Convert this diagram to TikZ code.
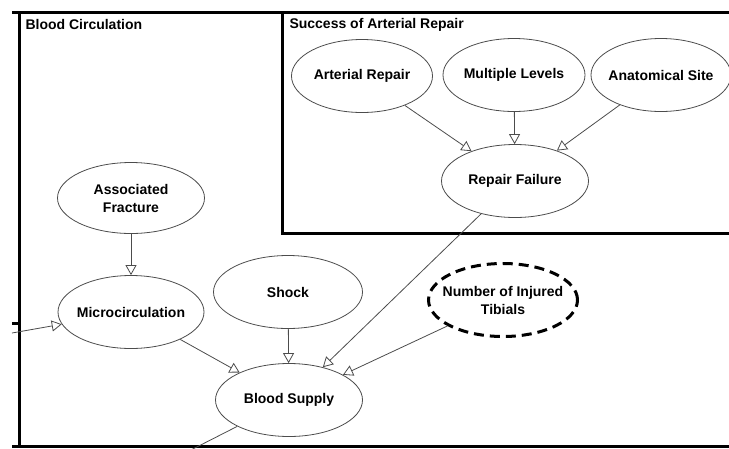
\documentclass[tikz,border=0pt]{standalone}
\usepackage{fontspec}
\setmainfont{Liberation Sans}
\usetikzlibrary{arrows.meta, shapes.geometric}

\begin{document}
\begin{tikzpicture}[x=1pt, y=-1pt,
    var/.style={ellipse, draw=black!70, line width=0.8pt, minimum width=147pt, minimum height=73pt,
        inner xsep=-12pt, inner ysep=0pt, align=center, font=\bfseries\fontsize{14}{18}\selectfont},
    hidden/.style={var, draw=black, line width=3pt, dash pattern=on 10pt off 6pt},
    link/.style={draw=black!70, line width=0.8pt, -{Triangle[open, length=10pt, width=11pt]}},
    frame/.style={line width=3pt},
    title/.style={anchor=base west, font=\bfseries\fontsize{14}{16}\selectfont}]
    \useasboundingbox (0,0) rectangle (729,448);
    \clip (0,0) rectangle (729,448);

    % Frames
    \draw[frame] (12,12) -- (740,12);
    \draw[frame] (12,446) -- (740,446);
    \draw[frame] (19.5,12) -- (19.5,448);
    \draw[frame] (12,323) -- (19.5,323);
    \draw[frame] (282.5,12) -- (282.5,233) -- (740,233);
    \node[title] (circ) at (22,29) {Blood Circulation};
    \node[title] (succ) at (286,28) {Success of Arterial Repair};

    % Success of arterial repair
    \node[var, minimum width=141pt] (repair) at (362,76) {Arterial Repair};
    \node[var, minimum width=142pt] (levels) at (514,75) {Multiple Levels};
    \node[var, minimum width=140pt] (site) at (661,75) {Anatomical Site};
    \node[var] (failure) at (515,181) {Repair Failure};

    % Blood circulation
    \node[var, minimum height=71pt] (fracture) at (131,198) {Associated\\Fracture};
    \node[var, minimum width=146pt] (micro) at (131,312) {Microcirculation};
    \node[var, minimum width=149pt] (shock) at (288,292) {Shock};
    \node[hidden, minimum width=149pt] (tibials) at (503,300) {Number of Injured\\Tibials};
    \node[var] (supply) at (289,400) {Blood Supply};
    \coordinate (inlet) at (12,333);
    \coordinate (outlet) at (185,453);

    % Links
    \draw[link] (repair) -- (failure);
    \draw[link] (levels) -- (failure);
    \draw[link] (site) -- (failure);
    \draw[link] (fracture) -- (micro);
    \draw[link] (inlet) -- (micro);
    \draw[link] (micro) -- (supply);
    \draw[link] (shock) -- (supply);
    \draw[link] (failure) -- (supply);
    \draw[link] (tibials) -- (supply);
    \draw[draw=black!70, line width=0.8pt] (supply) -- (outlet);
\end{tikzpicture}
\end{document}
